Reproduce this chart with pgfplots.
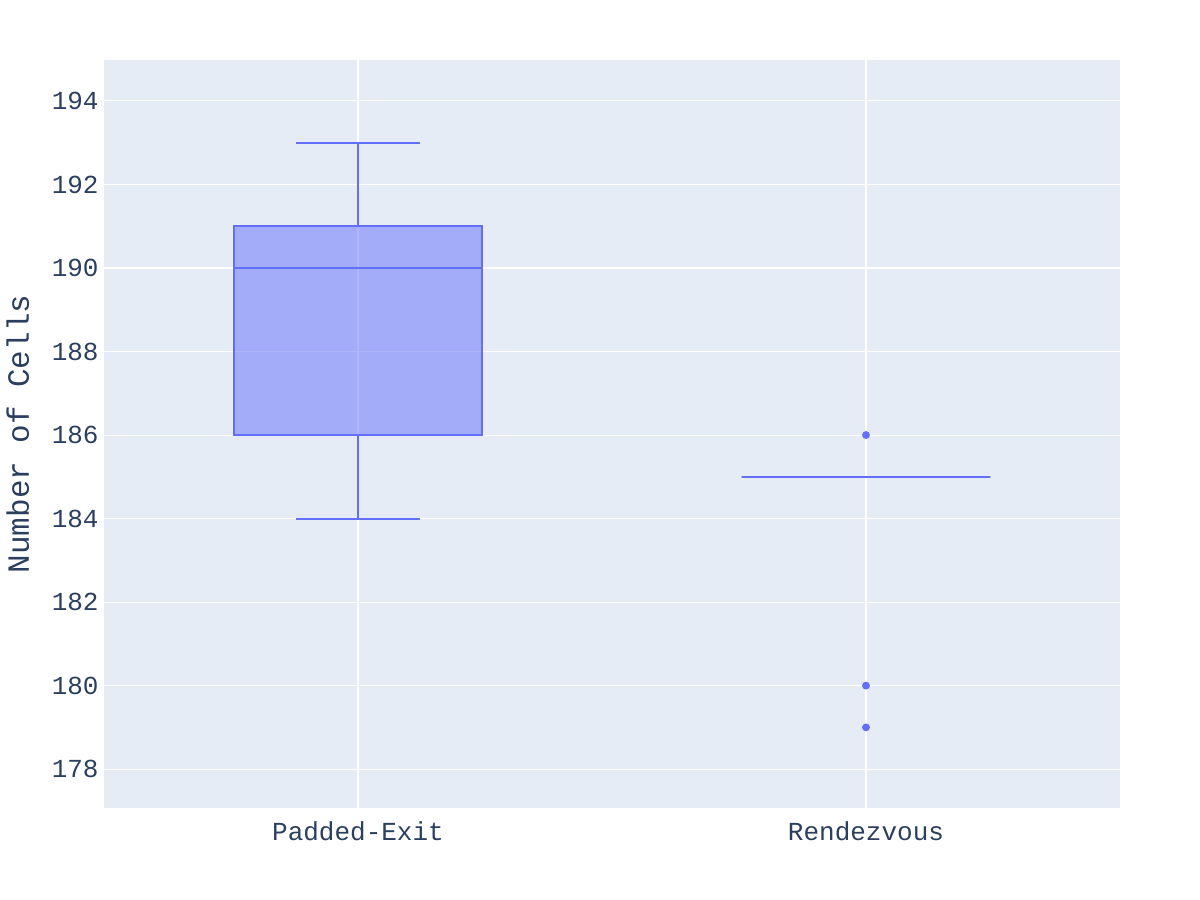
\documentclass[border=0pt]{standalone}
\usepackage{fontspec}
\setmainfont{Liberation Mono}
\usepackage{pgfplots}
\pgfplotsset{compat=1.18}
\usepgfplotslibrary{statistics}
\definecolor{bg}{HTML}{E5ECF6}
\definecolor{boxc}{HTML}{636EFA}
\definecolor{txt}{HTML}{2A3F5F}
\begin{document}
\begin{tikzpicture}
\path[use as bounding box] (-1.04cm,-0.92cm) rectangle (10.96cm,8.08cm);
\begin{axis}[
  at={(0,0)}, anchor=south west,
  scale only axis, width=10.16cm, height=7.48cm,
  xmin=-0.5, xmax=1.5, ymin=177.07, ymax=194.98,
  xtick={0,1}, xticklabels={Padded-Exit,Rendezvous},
  ytick={178,180,...,194},
  grid=major, major grid style={white, line width=0.3pt},
  axis background/.style={fill=bg},
  axis line style={draw=none},
  tick style={draw=none},
  /pgf/number format/assume math mode=true,
  ticklabel style={font=\fontsize{7.4}{8}\selectfont, text=txt},
  xticklabel style={yshift=-0.4pt},
  yticklabel style={xshift=2pt},
  ylabel={Number of Cells},
  ylabel style={font=\fontsize{8.8}{10}\selectfont, text=txt, at={(axis description cs:-0.0847,0.5)}, anchor=center},
  boxplot/draw direction=y,
  boxplot/box extend=0.49,
  boxplot/whisker extend=0.245,
]
\addplot[boxplot prepared={median=190, lower quartile=186, upper quartile=191, lower whisker=184, upper whisker=193, draw position=0}, draw=boxc, fill=boxc, fill opacity=0.5, line width=0.55pt] coordinates {};
\addplot[boxplot prepared={median=185, lower quartile=185, upper quartile=185, lower whisker=185, upper whisker=185, draw position=1}, draw=boxc, line width=0.55pt] coordinates {};
\addplot[only marks, mark=*, mark size=0.9pt, color=boxc] coordinates {(1,186) (1,180) (1,179)};
\end{axis}
\end{tikzpicture}
\end{document}
